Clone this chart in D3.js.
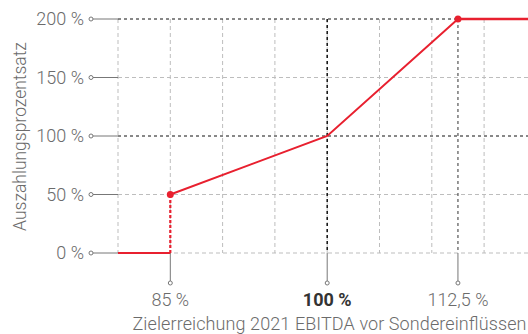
<!DOCTYPE html>
<html>
<head>
<meta charset="utf-8">
<script src="https://cdn.jsdelivr.net/npm/d3@7"></script>
<style>
  html, body { margin: 0; padding: 0; background: #fff; }
  svg { display: block; font-family: Roboto, "Liberation Sans", sans-serif; }
</style>
</head>
<body>
<svg id="chart" width="528" height="334"></svg>
<script>
// Payout curve: target achievement (%) -> payout percentage (%)
const achievement = [80, 85, 85, 100, 112.5, 120];
const payout      = [0, 0, 50, 100, 200, 200];
const markerPoints = [[85, 50], [112.5, 200]];

const yTicks = [0, 50, 100, 150, 200];
const yTickLabels = ["0 %", "50 %", "100 %", "150 %", "200 %"];
const xGrid = [80, 85, 90, 95, 100, 105, 110, 115];
const xTicks = [85, 100, 112.5];
const xTickLabels = ["85 %", "100 %", "112,5 %"];
const xTitle = "Zielerreichung 2021 EBITDA vor Sondereinflüssen";
const yTitle = "Auszahlungsprozentsatz";

const red = "#e8202f";
const grey = "#bdbdbd";
const axisGrey = "#777";
const textGrey = "#6b6b6b";
const fs = 18;

const svg = d3.select("#chart");
const W = 528;

const x = d3.scaleLinear().domain([80, 120]).range([118, 536.4]);
const y = d3.scaleLinear().domain([0, 200]).range([253, 19]);

// vertical grid lines
svg.append("g").selectAll("line").data(xGrid).join("line")
  .attr("x1", d => x(d)).attr("x2", d => x(d))
  .attr("y1", y(200)).attr("y2", y(0))
  .attr("stroke", grey).attr("stroke-width", 1).attr("stroke-dasharray", "4,3");

// horizontal grid lines (100 % and 200 % emphasised)
svg.append("g").selectAll("line").data(yTicks).join("line")
  .attr("x1", x(80)).attr("x2", W)
  .attr("y1", d => y(d)).attr("y2", d => y(d))
  .attr("stroke", d => (d === 100 || d === 200) ? "#111" : grey)
  .attr("stroke-width", 1)
  .attr("stroke-dasharray", d => (d === 100 || d === 200) ? "3,3" : "4,3");

// vertical reference lines at 100 % and 112.5 %
svg.append("g").selectAll("line").data([100, 112.5]).join("line")
  .attr("x1", d => x(d)).attr("x2", d => x(d))
  .attr("y1", y(200)).attr("y2", y(0))
  .attr("stroke", d => d === 100 ? "#111" : "#555")
  .attr("stroke-width", d => d === 100 ? 1.5 : 1.2)
  .attr("stroke-dasharray", "3,3");

// y axis tick leaders
const yAxis = svg.append("g");
yAxis.selectAll("line").data(yTicks).join("line")
  .attr("x1", 93).attr("x2", x(80))
  .attr("y1", d => y(d)).attr("y2", d => y(d))
  .attr("stroke", axisGrey).attr("stroke-width", 1);
yAxis.selectAll("circle").data(yTicks).join("circle")
  .attr("cx", 91).attr("cy", d => y(d)).attr("r", 2)
  .attr("fill", "#fff").attr("stroke", axisGrey).attr("stroke-width", 1);
yAxis.selectAll("text").data(yTicks).join("text")
  .attr("x", 84).attr("y", d => y(d)).attr("dy", "0.36em")
  .attr("text-anchor", "end")
  .attr("font-size", fs).attr("font-weight", 300).attr("fill", textGrey)
  .text((d, i) => yTickLabels[i]);

// x axis tick leaders
const xAxis = svg.append("g");
xAxis.selectAll("line").data(xTicks).join("line")
  .attr("x1", d => x(d)).attr("x2", d => x(d))
  .attr("y1", y(0)).attr("y2", 281)
  .attr("stroke", axisGrey).attr("stroke-width", 1);
xAxis.selectAll("circle").data(xTicks).join("circle")
  .attr("cx", d => x(d)).attr("cy", 283).attr("r", 2)
  .attr("fill", "#fff").attr("stroke", axisGrey).attr("stroke-width", 1);
xAxis.selectAll("text").data(xTicks).join("text")
  .attr("x", d => x(d)).attr("y", 306)
  .attr("text-anchor", "middle")
  .attr("font-size", fs)
  .attr("font-weight", d => d === 100 ? 700 : 300)
  .attr("fill", d => d === 100 ? "#333" : textGrey)
  .text((d, i) => xTickLabels[i]);

// axis titles
svg.append("text")
  .attr("x", 132.5).attr("y", 329.5)
  .attr("font-size", fs).attr("font-weight", 300).attr("fill", textGrey)
  .attr("textLength", 394)
  .text(xTitle);
svg.append("text")
  .attr("transform", `translate(25.5,${136.5}) rotate(-90)`)
  .attr("text-anchor", "middle")
  .attr("font-size", 17.5).attr("font-weight", 300).attr("fill", textGrey)
  .text(yTitle);

// payout curve
const pts = achievement.map((a, i) => [a, payout[i]]);
const line = d3.line().x(d => x(d[0])).y(d => y(d[1]));

// flat part below threshold
svg.append("path").attr("d", line(pts.slice(0, 2)))
  .attr("fill", "none").attr("stroke", red).attr("stroke-width", 2);
// jump at threshold
svg.append("path").attr("d", line(pts.slice(1, 3)))
  .attr("fill", "none").attr("stroke", red).attr("stroke-width", 2.2)
  .attr("stroke-dasharray", "3,2");
// rising part
svg.append("path").attr("d", line(pts.slice(2, 5)))
  .attr("fill", "none").attr("stroke", red).attr("stroke-width", 2);
// cap
svg.append("path").attr("d", line(pts.slice(4)))
  .attr("fill", "none").attr("stroke", red).attr("stroke-width", 2.6);

svg.append("g").selectAll("circle").data(markerPoints).join("circle")
  .attr("cx", d => x(d[0])).attr("cy", d => y(d[1])).attr("r", 3.5)
  .attr("fill", red);
</script>
</body>
</html>
